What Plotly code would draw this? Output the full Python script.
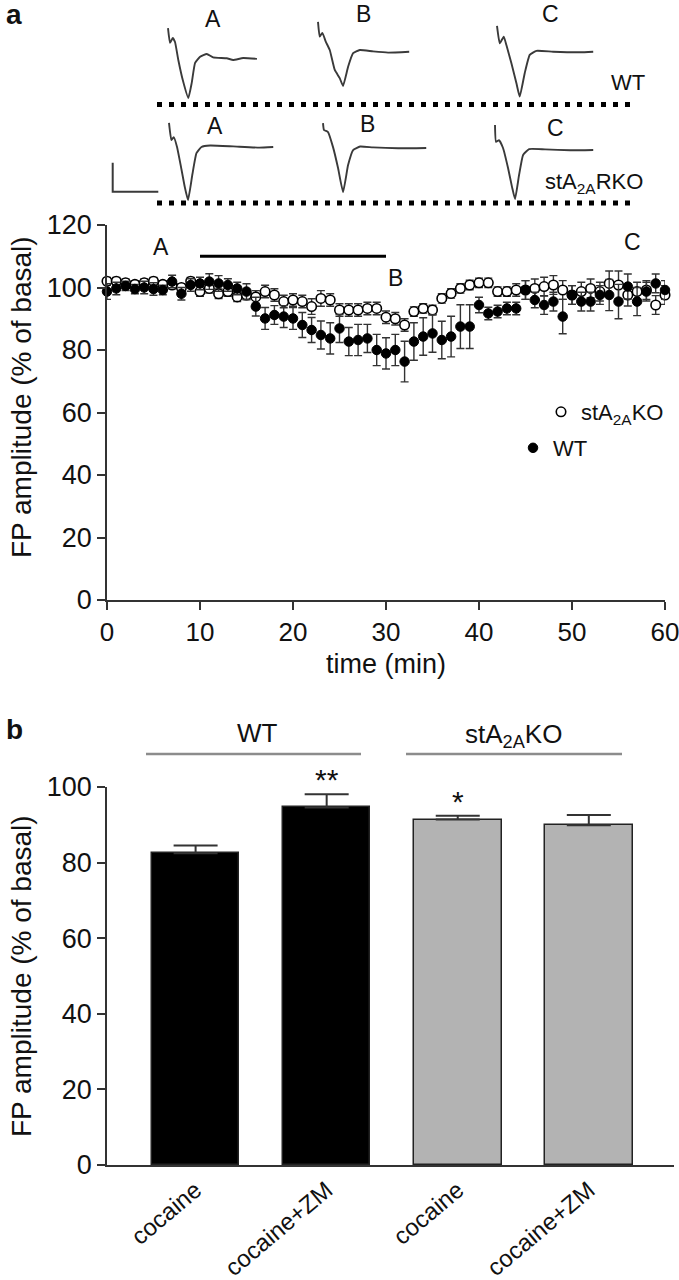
import plotly.graph_objects as go

# ---------------- data: panel a (time course) ----------------
time_min = [0, 1, 2, 3, 4, 5, 6, 7, 8, 9, 10, 11, 12, 13, 14, 15, 16, 17, 18, 19, 20,
            21, 22, 23, 24, 25, 26, 27, 28, 29, 30, 31, 32, 33, 34, 35, 36, 37, 38, 39, 40,
            41, 42, 43, 44, 45, 46, 47, 48, 49, 50, 51, 52, 53, 54, 55, 56, 57, 58, 59, 60]

ko_mean = [102, 102, 101.5, 101, 101.5, 102, 101, 100.8, 100, 102, 98.7, 99.7, 98, 98.7, 97, 97.6,
           97, 98.7, 97.6, 95.5, 96, 95.5, 93.9, 96.5, 96, 92.8, 92.8, 92.8, 93.3, 93.3, 90.5,
           90, 88, 92.3, 93.3, 92.8, 96.5, 98.1, 99.7, 100.8, 101.5, 101.5, 98.7, 98.7, 99.2, 99.2,
           99.7, 100.3, 100.8, 99.2, 97.6, 98.7, 99.7, 98.7, 101.3, 100.8, 97.6, 98.7, 99.2, 94.4, 97.6]
ko_sem = [1.2, 1.2, 1.2, 1.2, 1.2, 1.2, 1.2, 1.2, 1.2, 1.2, 1.5, 1.5, 1.5, 1.5, 1.5, 1.5,
          2, 2, 2, 2, 2, 2, 2.5, 2.5, 2, 2, 2, 2, 2, 2, 2,
          2, 2, 1.5, 1.5, 1.5, 1.5, 1.5, 1.5, 1.5, 1.5, 1.5, 1.5, 1.5, 2, 3,
          3, 3, 3, 3, 3, 3, 3, 3, 4, 4.5, 3.5, 3, 3, 3, 3]

wt_mean = [98.7, 99.7, 100.5, 99.5, 100, 99.5, 99.2, 101.9, 98, 100.8, 101.3, 101.9, 101.3, 100.8,
           99.7, 98.7, 93.9, 90.1, 91.2, 90.7, 90.1, 88, 86.4, 84.8, 83.7, 86.9, 82.7, 83.2, 83.7,
           80, 78.9, 80, 76.3, 82.7, 84.3, 85.3, 83.2, 84.3, 87.5, 87.5, 94.4, 91.7, 92.3, 93.3,
           93.3, 99.2, 96, 94.4, 95.5, 90.7, 97.6, 95.5, 95.5, 97.6, 97.6, 95.5, 100.3, 95.5,
           98.7, 101.3, 99.2]
wt_sem = [2.5, 2, 1.5, 1.5, 2, 2, 1.5, 2, 2, 2, 2, 2.5, 2.5, 2, 2, 2.5, 3, 3.5, 3, 3.5, 3.5,
          4, 4, 4.5, 5, 4.5, 4.5, 5, 4.5, 5, 5, 5, 6.5, 6, 6, 6, 6, 6.5, 7, 7, 2.5,
          2, 2, 2, 2, 3, 2.5, 3, 3, 5.5, 3, 3, 3, 3, 5, 5.5, 4, 4.5, 3, 3, 3]

cocaine_period = [10, 30]          # min, horizontal bar
cocaine_bar_level = 110            # % of basal
sample_labels = ["A", "B", "C"]
sample_times = [5.8, 31, 56.5]
sample_label_levels = [113, 103, 114.5]

# ---------------- data: panel b (bars) ----------------
bar_categories = ["cocaine", "cocaine+ZM", "cocaine", "cocaine+ZM"]
bar_values = [82.5, 94.6, 91.4, 89.9]
bar_sem = [2.0, 3.5, 1.0, 2.7]
bar_groups = ["WT", "WT", "stA<sub>2A</sub>KO", "stA<sub>2A</sub>KO"]
bar_stars = ["", "**", "*", ""]

# ---------------- data: sample field potential traces (ms, mV) ----------------
wt_a_ms = [0, 0.22, 0.52, 0.77, 1.13, 1.62, 2.23, 2.6, 2.97, 3.52, 4.25, 4.95, 6.45, 7.14, 8.24, 9.75]
wt_a_mv = [1.03, 0.52, 0.69, 0.55, -0.07, -0.76, -1.38, -0.86, -0.17, 0.04, 0.14, 0.02, -0.01, -0.07, 0, -0.03]
wt_b_ms = [0, 0.19, 0.48, 0.85, 1.29, 1.84, 2.38, 2.75, 3.3, 3.85, 4.58, 6.04, 7.69, 10.0]
wt_b_mv = [1.04, 0.53, 0.66, 0.36, 0.07, -0.62, -0.9, -1.17, -0.51, -0.04, 0.07, 0.02, -0.02, 0.01]
wt_c_ms = [0, 0.3, 0.74, 1.03, 1.58, 2.13, 2.49, 3.04, 3.59, 4.33, 6.15, 9.12, 10.55]
wt_c_mv = [0.9, 0.3, 0.53, 0.24, -0.39, -1.08, -1.54, -0.73, -0.1, 0.04, 0.01, -0.01, 0.01]
ko_a_ms = [0, 0.26, 0.52, 0.88, 1.36, 1.73, 2.09, 2.57, 3.01, 3.56, 4.51, 7.03, 9.89, 11.43]
ko_a_mv = [0.83, 0.24, 0.34, 0, -0.76, -1.38, -1.83, -0.93, -0.21, 0, 0.05, 0.02, -0.02, 0]
ko_b_ms = [0, 0.11, 0.55, 1.1, 1.65, 2.2, 2.75, 3.3, 4.07, 5.49, 8.24, 11.32]
ko_b_mv = [0.86, 0.62, 0.55, 0.03, -0.69, -1.52, -0.59, -0.07, 0.05, 0.02, -0.01, 0]
ko_c_ms = [0, 0.11, 0.44, 0.88, 1.43, 1.87, 2.2, 2.64, 3.08, 3.74, 5.49, 8.24, 10.77]
ko_c_mv = [0.86, 0.28, 0.34, 0.07, -0.62, -1.28, -1.69, -0.86, -0.17, 0.03, 0.02, -0.01, 0]
scale_bar_ms = 5
scale_bar_mv = 1

# ---------------- layout constants (pixels) ----------------
W, H = 679, 1280
FONT = "Liberation Sans, Arial, sans-serif"
AX = "#333333"


def px(xp):
    return xp / W


def py(yp):
    return 1 - yp / H


fig = go.Figure()

# ---- panel a traces ----
fig.add_trace(go.Scatter(
    x=time_min, y=ko_mean, mode="markers", name="stA<sub>2A</sub>KO",
    marker=dict(symbol="circle", size=9.5, color="white", line=dict(color="black", width=1.6)),
    error_y=dict(type="data", array=ko_sem, color=AX, thickness=1.4, width=4),
    cliponaxis=False, xaxis="x", yaxis="y", legend="legend"))
fig.add_trace(go.Scatter(
    x=time_min, y=wt_mean, mode="markers", name="WT",
    marker=dict(symbol="circle", size=9.5, color="black", line=dict(color="black", width=1)),
    error_y=dict(type="data", array=wt_sem, color=AX, thickness=1.4, width=4),
    cliponaxis=False, xaxis="x", yaxis="y", legend="legend2"))

# cocaine application bar
fig.add_trace(go.Scatter(
    x=cocaine_period, y=[cocaine_bar_level] * 2, mode="lines",
    line=dict(color="black", width=3), showlegend=False, hoverinfo="skip",
    xaxis="x", yaxis="y"))

# ---- panel b bars ----
bar_colors = ["black" if g == "WT" else "#b3b3b3" for g in bar_groups]
fig.add_trace(go.Bar(
    x=[0, 1, 2, 3], y=bar_values, width=0.668,
    marker=dict(color=bar_colors, line=dict(color="#222222", width=1.5)),
    error_y=dict(type="data", array=bar_sem, arrayminus=[0] * 4, symmetric=False,
                 color="#333333", thickness=2, width=22),
    showlegend=False, xaxis="x2", yaxis="y2"))

# ---- sample traces (drawn in a pixel-like frame) ----
PX_PER_MS = 9.12
PX_PER_MV = 29
trace_sets = [
    (wt_a_ms, wt_a_mv, 168, 58), (wt_b_ms, wt_b_mv, 318, 52), (wt_c_ms, wt_c_mv, 497, 52),
    (ko_a_ms, ko_a_mv, 169, 147), (ko_b_ms, ko_b_mv, 323, 148), (ko_c_ms, ko_c_mv, 495, 150),
]
for ms, mv, x0, base in trace_sets:
    fig.add_trace(go.Scatter(
        x=[x0 + m * PX_PER_MS for m in ms], y=[base - v * PX_PER_MV for v in mv],
        mode="lines", line=dict(color="#3a3a3a", width=1.9, shape="spline", smoothing=0.4),
        showlegend=False, hoverinfo="skip", xaxis="x3", yaxis="y3"))

# scale bar
sb_x, sb_y = 112.7, 191.7
fig.add_trace(go.Scatter(
    x=[sb_x, sb_x, sb_x + scale_bar_ms * PX_PER_MS],
    y=[sb_y - scale_bar_mv * PX_PER_MV, sb_y, sb_y],
    mode="lines", line=dict(color="#3a3a3a", width=2), showlegend=False,
    hoverinfo="skip", xaxis="x3", yaxis="y3"))

shapes = []
# dotted baselines
for yy in (104.5, 203):
    shapes.append(dict(type="line", xref="x3", yref="y3", x0=157, x1=637, y0=yy, y1=yy,
                       line=dict(color="black", width=5, dash="5px,7px")))
# group lines panel b
for x0, x1 in ((146, 361), (406, 622)):
    shapes.append(dict(type="line", xref="paper", yref="paper", x0=px(x0), x1=px(x1),
                       y0=py(754), y1=py(754), line=dict(color="#8c8c8c", width=2.5)))

ann = []
TXT = dict(family=FONT, color="#111111")
C = dict(xanchor="center", yanchor="middle", showarrow=False)
# trace labels
for lab, (xa, ya), (xb, yb) in zip(sample_labels,
                                   [(213, 19), (363, 14), (550, 14)],
                                   [(215, 126), (367, 124), (555, 128)]):
    ann.append(dict(x=xa, y=ya, xref="x3", yref="y3", text=lab, font=dict(size=23, **TXT), **C))
    ann.append(dict(x=xb, y=yb, xref="x3", yref="y3", text=lab, font=dict(size=23, **TXT), **C))
ann.append(dict(x=628, y=82, xref="x3", yref="y3", text="WT", font=dict(size=22, **TXT), **C))
ann.append(dict(x=594, y=183, xref="x3", yref="y3", text="stA<sub>2A</sub>RKO",
                font=dict(size=22, **TXT), **C))
# panel letters
ann.append(dict(x=px(14), y=py(14), xref="paper", yref="paper", text="<b>a</b>",
                font=dict(size=28, **TXT), **C))
ann.append(dict(x=px(14), y=py(729), xref="paper", yref="paper", text="<b>b</b>",
                font=dict(size=28, **TXT), **C))
# A/B/C labels in panel a
for lab, t, lv in zip(sample_labels, sample_times, sample_label_levels):
    ann.append(dict(x=t, y=lv, xref="x", yref="y", text=lab, font=dict(size=23, **TXT), **C))
# axis titles
ann.append(dict(x=px(21), y=py(397), xref="paper", yref="paper", text="FP amplitude (% of basal)",
                textangle=-90, font=dict(size=28, **TXT), **C))
ann.append(dict(x=px(21), y=py(976), xref="paper", yref="paper", text="FP amplitude (% of basal)",
                textangle=-90, font=dict(size=28, **TXT), **C))
ann.append(dict(x=30, y=py(664), xref="x", yref="paper", text="time (min)",
                font=dict(size=27, **TXT), **C))
# group labels panel b
ann.append(dict(x=px(257), y=py(733), xref="paper", yref="paper", text="WT",
                font=dict(size=26, **TXT), **C))
ann.append(dict(x=px(513), y=py(735), xref="paper", yref="paper", text="stA<sub>2A</sub>KO",
                font=dict(size=26, **TXT), **C))
# stars
for i, s in enumerate(bar_stars):
    if s:
        ann.append(dict(x=i, y=bar_values[i] + bar_sem[i], xref="x2", yref="y2", text=s,
                        showarrow=False, xanchor="center", yanchor="bottom", yshift=-4,
                        font=dict(size=30, **TXT)))

axis_common = dict(showline=True, linecolor=AX, linewidth=1.5, ticks="outside", ticklen=8,
                   tickwidth=1.5, tickcolor=AX, showgrid=False, zeroline=False, automargin=False,
                   ticklabeloverflow="allow")
TICKFONT = dict(family=FONT, size=27, color="#111111")

fig.update_layout(
    template="none",
    width=W, height=H, margin=dict(l=0, r=0, t=0, b=0, pad=0),
    paper_bgcolor="white", plot_bgcolor="rgba(0,0,0,0)",
    font=dict(family=FONT, color="#111111"),
    xaxis=dict(domain=[px(107), px(665)], range=[0, 60], tickvals=[0, 10, 20, 30, 40, 50, 60],
               anchor="y", tickfont=dict(family=FONT, size=26, color="#111111"), **axis_common),
    yaxis=dict(domain=[py(600), py(225)], range=[0, 120], tickvals=[0, 20, 40, 60, 80, 100, 120],
               anchor="x", tickfont=TICKFONT, **axis_common),
    xaxis2=dict(domain=[px(107), px(674)], range=[-0.676, 3.65], tickvals=[0, 1, 2, 3],
                ticktext=bar_categories, tickangle=-40, anchor="y2", automargin=False,
                showline=True, linecolor=AX, linewidth=1.5, ticks="", showgrid=False,
                zeroline=False, ticklabeloverflow="allow",
                tickfont=dict(family=FONT, size=24, color="#111111")),
    yaxis2=dict(domain=[py(1165), py(787)], range=[0, 100], tickvals=[0, 20, 40, 60, 80, 100],
                anchor="x2", tickfont=TICKFONT, **axis_common),
    xaxis3=dict(domain=[0, 1], range=[0, W], visible=False, anchor="y3", automargin=False),
    yaxis3=dict(domain=[py(220), 1], range=[220, 0], visible=False, anchor="x3", automargin=False),
    legend=dict(x=px(541), y=py(412), xanchor="left", yanchor="middle", bgcolor="rgba(0,0,0,0)",
                font=dict(family=FONT, size=22, color="#111111"), itemwidth=30),
    legend2=dict(x=px(513), y=py(448), xanchor="left", yanchor="middle", bgcolor="rgba(0,0,0,0)",
                 font=dict(family=FONT, size=22, color="#111111"), itemwidth=30),
    shapes=shapes, annotations=ann, bargap=0,
)

fig.write_html("out.html", config={"displayModeBar": False},
               post_script="document.body.style.margin='0';document.body.style.overflow='hidden';")
